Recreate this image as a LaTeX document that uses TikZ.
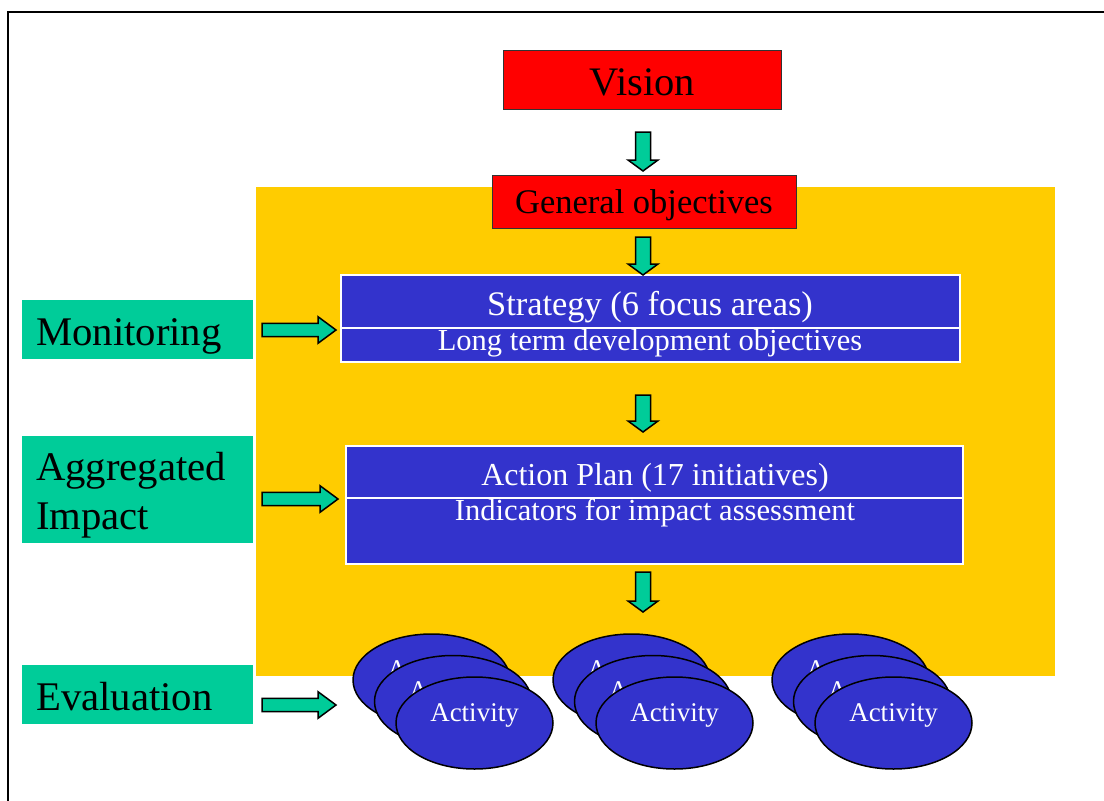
\documentclass[tikz,border=0pt]{standalone}
\usepackage{fontspec}
\setmainfont{Liberation Serif}
\usetikzlibrary{calc,shapes.geometric}

\definecolor{visionred}{HTML}{FF0000}
\definecolor{panelyellow}{HTML}{FFCC00}
\definecolor{planblue}{HTML}{3333CC}
\definecolor{sidegreen}{HTML}{00CC99}

\tikzset{
	redbox/.style={draw=black!80, line width=0.8pt, fill=visionred, inner sep=0pt, text depth=0pt},
	bluebox/.style={draw=white, line width=1.2pt, fill=planblue, inner sep=0pt},
	bluetext/.style={text=white, inner sep=0pt, anchor=base},
	sidebox/.style={fill=sidegreen, inner sep=0pt, minimum width=231pt},
	sidetext/.style={inner sep=0pt, anchor=base west, font=\fontsize{40.7}{47}\selectfont},
	activity/.style={ellipse, draw=black, line width=1.5pt, fill=planblue,
		minimum width=157pt, minimum height=92pt, inner sep=0pt},
	fatarrow/.style n args={3}{draw=black, line width=1.5pt, fill=sidegreen,
		to path={($(\tikztostart)!#1!90:(\tikztotarget)$)
			-- ($(\tikztotarget)!#3!(\tikztostart)!#1!-90:(\tikztostart)$)
			-- ($(\tikztotarget)!#3!(\tikztostart)!#2!-90:(\tikztostart)$)
			-- (\tikztotarget)
			-- ($(\tikztotarget)!#3!(\tikztostart)!#2!90:(\tikztostart)$)
			-- ($(\tikztotarget)!#3!(\tikztostart)!#1!90:(\tikztostart)$)
			-- ($(\tikztostart)!#1!-90:(\tikztotarget)$) -- cycle}},
	downarrow/.style={fatarrow={7.5pt}{15pt}{11pt}},
	rightarrow/.style={fatarrow={6.7pt}{13.3pt}{18pt}},
}

\begin{document}
\begin{tikzpicture}[x=1pt,y=-1pt]
	\useasboundingbox (0,0) rectangle (1104,801);
	
	% frame and background panel
	\draw [line width=1.8pt] (8,801) -- (8,12) -- (1104,12);
	\fill [panelyellow] (256,187) rectangle (1055,676);
	
	% goals
	\node [redbox, minimum width=278pt, minimum height=59pt, text height=31pt, font=\fontsize{40.5}{48}\selectfont] (vision) at (642,79.5) {Vision};
	\node [redbox, minimum width=304pt, minimum height=53pt, text height=23.6pt, font=\fontsize{34.5}{40}\selectfont] (general) at (644,201.5) {General objectives};
	
	% strategy and action plan
	\node [bluebox, minimum width=619pt, minimum height=87pt] (strategy) at (650.5,318.5) {};
	\draw [white, line width=1.5pt] (strategy.west |- 0,328) -- (strategy.east |- 0,328);
	\node [bluetext, font=\fontsize{34.4}{40}\selectfont] (stratname) at (650,315) {Strategy (6 focus areas)};
	\node [bluetext, font=\fontsize{30.5}{36}\selectfont] (stratgoal) at (650,350) {Long term development objectives};
	
	\node [bluebox, minimum width=617pt, minimum height=118pt] (action) at (654.5,505) {};
	\draw [white, line width=1.5pt] (action.west |- 0,498) -- (action.east |- 0,498);
	\node [bluetext, font=\fontsize{32}{38}\selectfont] (actname) at (655,485) {Action Plan (17 initiatives)};
	\node [bluetext, font=\fontsize{30.6}{36}\selectfont] (actgoal) at (655,520) {Indicators for impact assessment};
	
	% activities
	\foreach \g/\gx in {1/431.5,2/631.5,3/850.5}
		\foreach \k in {0,1,2}
			\node [activity, label={[text=white, font=\fontsize{27}{32}\selectfont, yshift=8pt]center:Activity}]
				(act\g-\k) at ({\gx+21.5*\k},{680+21.5*\k}) {};
	
	% side labels
	\node [sidebox, minimum height=59pt] (monitoring) at (137.5,329.5) {};
	\node [sidetext] (monname) at (36,345) {Monitoring};
	\node [sidebox, minimum height=107pt] (impact) at (137.5,489.5) {};
	\node [sidetext] (aggname) at (36,480) {Aggregated};
	\node [sidetext] (impname) at (36,529) {Impact};
	\node [sidebox, minimum height=59pt] (evaluation) at (137.5,694.5) {};
	\node [sidetext] (evalname) at (36,710) {Evaluation};
	
	% arrows
	\coordinate (v-s) at (643,132);
	\coordinate (v-e) at (643,171);
	\coordinate (g-s) at (643,237);
	\coordinate (g-e) at (643,275);
	\coordinate (s-s) at (643,395);
	\coordinate (s-e) at (643,432);
	\coordinate (a-s) at (643,572);
	\coordinate (a-e) at (643,612);
	\draw [downarrow] (v-s) to (v-e);
	\draw [downarrow] (g-s) to (g-e);
	\draw [downarrow] (s-s) to (s-e);
	\draw [downarrow] (a-s) to (a-e);
	
	\coordinate (m-s) at (262,330);
	\coordinate (m-e) at (336,330);
	\coordinate (i-s) at (262,499);
	\coordinate (i-e) at (338,499);
	\coordinate (e-s) at (262,705);
	\coordinate (e-e) at (336,705);
	\draw [rightarrow] (m-s) to (m-e);
	\draw [rightarrow] (i-s) to (i-e);
	\draw [rightarrow] (e-s) to (e-e);
\end{tikzpicture}
\end{document}
